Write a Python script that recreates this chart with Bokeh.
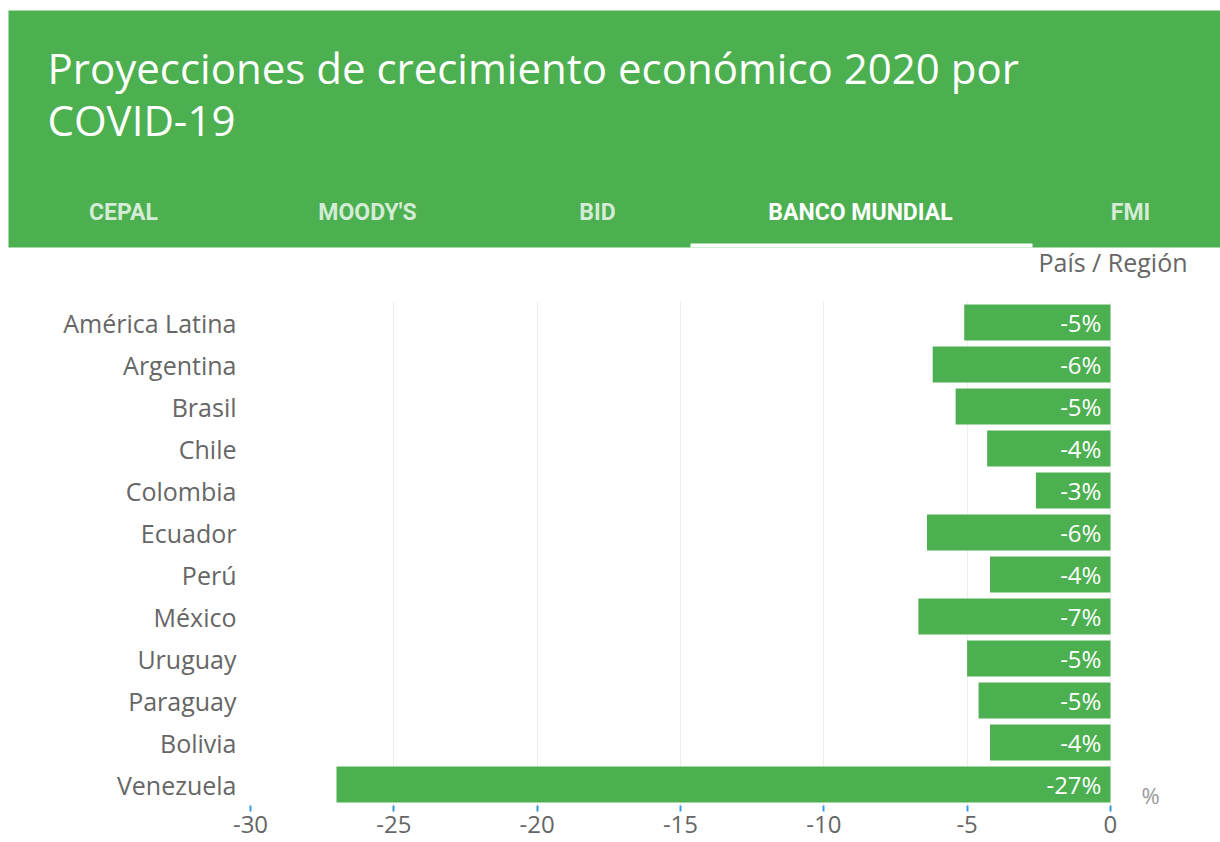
from bokeh.plotting import figure
from bokeh.layouts import column, row
from bokeh.models import Range1d, FactorRange, FixedTicker, Label, ColumnDataSource, PrintfTickFormatter
from bokeh.core.properties import value
from bokeh.embed import file_html
from bokeh.resources import INLINE

# ---- data ----
title_lines = ["Proyecciones de crecimiento económico 2020 por", "COVID-19"]
tabs = ["CEPAL", "MOODY'S", "BID", "BANCO MUNDIAL", "FMI"]
active_tab = "BANCO MUNDIAL"
countries = ["América Latina", "Argentina", "Brasil", "Chile", "Colombia", "Ecuador",
             "Perú", "México", "Uruguay", "Paraguay", "Bolivia", "Venezuela"]
growth = [-5.1, -6.2, -5.4, -4.3, -2.6, -6.4, -4.2, -6.7, -5.0, -4.6, -4.2, -27.0]
x_ticks = [-30, -25, -20, -15, -10, -5, 0]
labels = [f"{round(v)}%" for v in growth]

GREEN = "#4caf50"
GRAY = "#666666"
FONT = "Open Sans"

# ---- header figure (data coords = page pixels) ----
H_H = 290
h = figure(width=1220, height=H_H, x_range=Range1d(0, 1220), y_range=Range1d(H_H, 0),
           x_axis_type=None, y_axis_type=None, min_border=0, toolbar_location=None,
           output_backend="svg", outline_line_color=None)
h.quad(left=[8], right=[1220], top=[10], bottom=[247], color=GREEN, line_color=None)
h.quad(left=[690], right=[1032], top=[243], bottom=[247], color="white", line_color=None)
h.text(x=[47, 47], y=[67, 119], text=title_lines, text_color="white",
       text_font=value("Open Sans"), text_font_size="42px", text_baseline="alphabetic")
tab_x = [123, 367, 597, 860, 1130]
tab_colors = ["white" if t == active_tab else "#d4ecd5" for t in tabs]
h.text(x=tab_x, y=[212] * len(tabs), text=tabs, text_color=tab_colors,
       text_font=value("Roboto"), text_font_size="23px", text_font_style="bold",
       text_align="center", text_baseline="middle")
h.text(x=[1187], y=[261], text=["País / Región"], text_color=GRAY,
       text_font=value(FONT), text_font_size="25px", text_align="right", text_baseline="middle")

# ---- chart figure ----
p = figure(width=1220, height=842 - H_H, y_range=FactorRange(*countries[::-1]),
           x_range=Range1d(-30, 3.84), toolbar_location=None, output_backend="svg",
           min_border_left=250, min_border_right=0, min_border_top=11, min_border_bottom=37,
           outline_line_color=None)
src = ColumnDataSource(dict(country=countries, growth=growth, label=labels))
p.hbar(y="country", left="growth", right=0, height=0.86, source=src, color=GREEN, line_color=None)
p.text(x=0, y="country", text="label", source=src, x_offset=-9, text_color="white",
       text_font=value(FONT), text_font_size="24px", text_align="right", text_baseline="middle")

p.xaxis.ticker = FixedTicker(ticks=x_ticks)
p.xaxis.formatter = PrintfTickFormatter(format="%d")
p.xaxis.axis_line_color = None
p.xaxis.major_tick_line_color = "#2e9be6"
p.xaxis.major_tick_line_width = 2
p.xaxis.major_tick_out = 6
p.xaxis.major_tick_in = 0
p.xaxis.minor_tick_line_color = None
p.xaxis.major_label_text_font = FONT
p.xaxis.major_label_text_font_size = "24px"
p.xaxis.major_label_text_color = GRAY
p.xaxis.major_label_standoff = 4

p.yaxis.axis_line_color = None
p.yaxis.major_tick_line_color = None
p.yaxis.minor_tick_line_color = None
p.yaxis.major_label_text_font = FONT
p.yaxis.major_label_text_font_size = "25px"
p.yaxis.major_label_text_color = GRAY
p.yaxis.major_label_standoff = 8

p.xgrid.grid_line_color = "#eeeeee"
p.ygrid.grid_line_color = None

p.add_layout(Label(x=1.4, y=0.26, text="%", text_color="#999999", text_font=FONT,
                   text_font_size="22px", text_baseline="middle", text_align="center"))

layout = column(row(h), p, spacing=0)
open("out.html", "w").write(file_html(layout, INLINE))
